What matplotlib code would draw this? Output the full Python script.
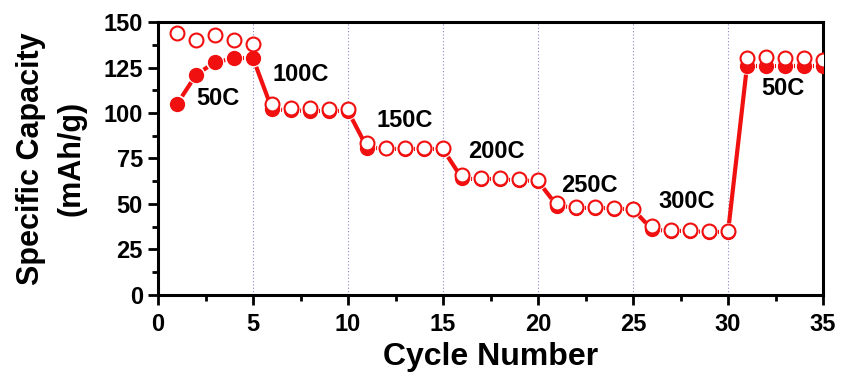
import numpy as np
import matplotlib.pyplot as plt
from matplotlib.ticker import MultipleLocator

plt.rcParams['font.family'] = ['Liberation Sans', 'DejaVu Sans']
plt.rcParams['font.weight'] = 'bold'

# Data
cycles = list(range(1, 36))
charge = [144, 140, 143, 140, 138,
          105, 103, 102.5, 102, 102,
          83.5, 81, 80.5, 80.5, 80.5,
          66, 64, 64, 63.5, 63,
          50.5, 48.5, 48.5, 48, 47,
          38, 35.5, 35.5, 35, 35,
          130, 131, 130, 130, 129]
discharge = [105, 121, 128, 130, 130,
             102, 101.5, 101, 101, 101,
             81, 80.5, 80, 80, 80,
             64, 63.5, 63.5, 63, 62.5,
             49, 48, 48, 47.5, 47,
             36, 35, 35, 34.5, 34.5,
             126, 126, 126, 126, 126]
rate_labels = ['50C', '100C', '150C', '200C', '250C', '300C', '50C']
label_x = [3.15, 7.5, 13.0, 17.8, 22.7, 27.8, 32.9]
label_y = [108, 121, 96, 78.6, 60, 51.6, 113.7]

red = '#f01010'

fig = plt.figure(figsize=(8.41, 3.84), dpi=100)
ax = fig.add_axes([0.188, 0.232, 0.7906, 0.7106])
ax.set_xlim(0, 35)
ax.set_ylim(0, 150)

# line with a gap to the symbols (Origin style)
pts = ax.transData.transform(np.column_stack([cycles, discharge]))
gap = 9.0
inv = ax.transData.inverted()
for p0, p1 in zip(pts[:-1], pts[1:]):
    d = np.hypot(*(p1 - p0))
    if d <= 2 * gap:
        continue
    u = (p1 - p0) / d
    seg = inv.transform(np.array([p0 + u * gap, p1 - u * gap]))
    ax.plot(seg[:, 0], seg[:, 1], color=red, lw=3, solid_capstyle='butt',
            zorder=3)

ax.plot(cycles, discharge, ls='none', marker='o', ms=10,
        mfc=red, mec=red, zorder=3)
ax.plot(cycles, charge, ls='none', marker='o', ms=10, mfc='white',
        mec=red, mew=1.5, zorder=4)

for t, x, y in zip(rate_labels, label_x, label_y):
    ax.text(x, y, t, ha='center', va='center', fontsize=17,
            fontweight='bold', zorder=5)

for gx in [5, 10, 15, 20, 25, 30]:
    ax.axvline(gx, color='#8a8ac8', lw=0.8, ls=(0, (1, 2)), zorder=1)

ax.xaxis.set_major_locator(MultipleLocator(5))
ax.xaxis.set_minor_locator(MultipleLocator(2.5))
ax.yaxis.set_major_locator(MultipleLocator(25))
ax.yaxis.set_minor_locator(MultipleLocator(12.5))
ax.tick_params(which='major', direction='out', length=7, width=2,
               labelsize=17, top=False, right=False)
ax.tick_params(axis='y', which='major', pad=4)
ax.tick_params(axis='x', which='major', pad=6)
ax.tick_params(which='minor', direction='out', length=4, width=2,
               top=False, right=False)
for lab in ax.get_xticklabels() + ax.get_yticklabels():
    lab.set_fontweight('bold')
for sp in ax.spines.values():
    sp.set_linewidth(2.2)

ax.set_xlabel('Cycle Number', fontsize=23, fontweight='bold', labelpad=4)
ax.set_ylabel('Specific Capacity\n(mAh/g)', fontsize=22, fontweight='bold',
              labelpad=12, linespacing=1.45)

fig.savefig('out.png', dpi=100)
